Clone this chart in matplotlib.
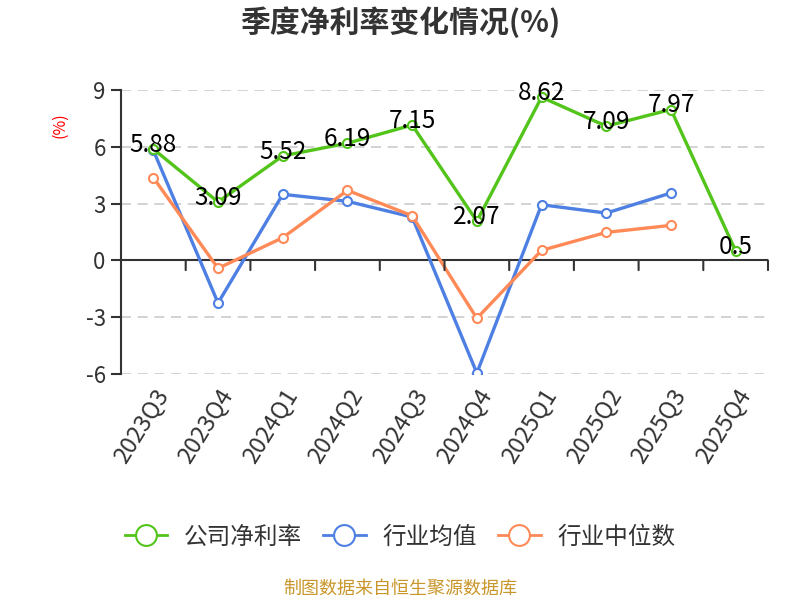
import matplotlib
matplotlib.use("Agg")
import matplotlib.pyplot as plt
from matplotlib.lines import Line2D

plt.rcParams['font.family'] = ['Noto Sans CJK SC', 'DejaVu Sans']

quarters = ["2023Q3", "2023Q4", "2024Q1", "2024Q2", "2024Q3",
            "2024Q4", "2025Q1", "2025Q2", "2025Q3", "2025Q4"]
company = [5.88, 3.09, 5.52, 6.19, 7.15, 2.07, 8.62, 7.09, 7.97, 0.5]
industry_avg = [5.81, -2.25, 3.49, 3.12, 2.29, -5.95, 2.94, 2.50, 3.56]
industry_median = [4.37, -0.42, 1.20, 3.70, 2.36, -3.06, 0.53, 1.48, 1.85]
yticks = [-6, -3, 0, 3, 6, 9]

green = '#52C41A'
blue = '#4E7FE3'
orange = '#FF8A58'
text_c = '#333333'

fig = plt.figure(figsize=(8, 6), dpi=100)
ax = fig.add_axes([121/800, 1-374/600, (768-121)/800, (374-90)/600])

x = list(range(len(quarters)))
ax.set_xlim(-0.5, len(quarters) - 0.5)
ax.set_ylim(-6, 9)

for yv in yticks:
    if yv != 0:
        ax.axhline(yv, color='#cccccc', lw=1.2, ls=(0, (6, 4)), zorder=1)

mk = dict(marker='o', markersize=6.5, markerfacecolor='white', markeredgewidth=1.5)
ax.plot(x, company, color=green, lw=2.4, markeredgecolor=green, zorder=4, **mk)
ax.plot(x[:len(industry_avg)], industry_avg, color=blue, lw=2.4, markeredgecolor=blue, zorder=3, **mk)
ax.plot(x[:len(industry_median)], industry_median, color=orange, lw=2.4, markeredgecolor=orange, zorder=3, **mk)

for xi, v in zip(x, company):
    ax.annotate(f"{v:g}", (xi, v), xytext=(0, 3), textcoords='offset points',
                ha='center', va='center', fontsize=17.5, color='black', zorder=5)

# zero axis line with boundary ticks
ax.axhline(0, color=text_c, lw=1.5, zorder=2)
for b in range(1, len(quarters) + 1):
    ax.annotate('', xy=(b - 0.5, 0), xytext=(0, -7), textcoords='offset points',
                arrowprops=dict(arrowstyle='-', color=text_c, lw=1.5, shrinkA=0, shrinkB=0))

for s in ['top', 'right', 'bottom']:
    ax.spines[s].set_visible(False)
ax.spines['left'].set_color(text_c)
ax.spines['left'].set_linewidth(1.5)

ax.set_yticks(yticks)
ax.set_yticklabels([str(t) for t in yticks], fontsize=16, color=text_c)
ax.tick_params(axis='y', length=7, width=1.5, color=text_c, pad=4)

ax.set_xticks(x)
ax.set_xticklabels(quarters, rotation=58, ha='right', rotation_mode='anchor',
                   fontsize=17, color=text_c)
ax.tick_params(axis='x', length=0, pad=8)

fig.text(60/800, 1-125/600, '(%)', rotation=90, color='red', fontsize=11.5,
         ha='center', va='center')

fig.text(0.5, 1-22/600, '季度净利率变化情况(%)', ha='center', va='center',
         fontsize=21.5, fontweight='bold', color=text_c)

handles = [
    Line2D([], [], color=c, lw=2, marker='o', markersize=15, markerfacecolor='white', markeredgewidth=1.5)
    for c in (green, blue, orange)
]
leg = fig.legend(handles, ['公司净利率', '行业均值', '行业中位数'], loc='center',
                 bbox_to_anchor=(0.5, 1-537/600), ncol=3, frameon=False,
                 fontsize=17, handlelength=1.8, columnspacing=0.9, handletextpad=0.7)
for t in leg.get_texts():
    t.set_color(text_c)

fig.text(0.5, 1-589/600, '制图数据来自恒生聚源数据库', ha='center', va='center',
         fontsize=13, color='#C9962B')

fig.savefig('out.png', dpi=100)
